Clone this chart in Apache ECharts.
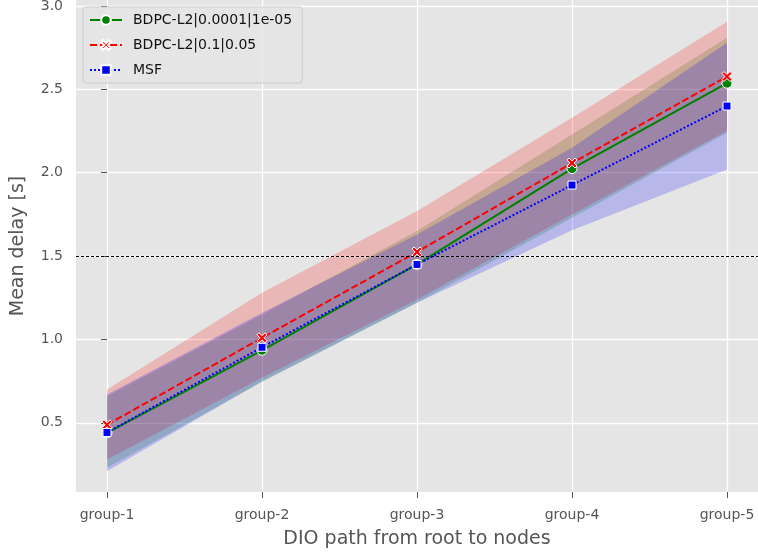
<!DOCTYPE html>
<html>
<head>
<meta charset="utf-8">
<script src="https://cdn.jsdelivr.net/npm/echarts@6/dist/echarts.min.js"></script>
<style>
  html, body { margin: 0; padding: 0; background: #fff; }
  #chart { width: 758px; height: 554px; }
</style>
</head>
<body>
<div id="chart"></div>
<script>
// categories and ticks
const groups = ['group-1', 'group-2', 'group-3', 'group-4', 'group-5']
const yTicks = [0.5, 1.0, 1.5, 2.0, 2.5, 3.0]
const refLine = 1.5

// BDPC-L2|0.0001|1e-05
const greenMean = [0.44, 0.935, 1.45, 2.025, 2.537]
const greenUpper = [0.66, 1.15, 1.65, 2.23, 2.81]
const greenLower = [0.23, 0.745, 1.22, 1.73, 2.24]
// BDPC-L2|0.1|0.05
const redMean = [0.488, 1.01, 1.525, 2.058, 2.577]
const redUpper = [0.7, 1.28, 1.77, 2.33, 2.905]
const redLower = [0.28, 0.77, 1.24, 1.75, 2.25]
// MSF
const blueMean = [0.442, 0.953, 1.45, 1.926, 2.4]
const blueUpper = [0.67, 1.16, 1.63, 2.15, 2.78]
const blueLower = [0.21, 0.75, 1.22, 1.655, 2.02]

const font = 'DejaVu Sans'
const xPos = groups.map((g, i) => i)

function pairs(arr) {
  return arr.map((v, i) => [i, v])
}

// confidence band as one polygon, placed through the axes
function band(name, lower, upper, color) {
  return {
    name: name,
    type: 'custom',
    silent: true,
    z: 1,
    data: lower.map((v, i) => [i, v, upper[i]]),
    renderItem: (params, api) => {
      if (params.dataIndex !== 0) return null
      const pts = []
      upper.forEach((v, i) => pts.push(api.coord([i, v])))
      for (let i = lower.length - 1; i >= 0; i--) pts.push(api.coord([i, lower[i]]))
      return {
        type: 'polygon',
        shape: { points: pts },
        style: { fill: color }
      }
    }
  }
}

const xMark = 'path://M2,0 L5,3 L8,0 L10,2 L7,5 L10,8 L8,10 L5,7 L2,10 L0,8 L3,5 L0,2 Z'

const chart = echarts.init(document.getElementById('chart'))

const option = {
  animation: false,
  backgroundColor: '#fff',
  textStyle: { fontFamily: font },
  grid: {
    left: 76,
    right: 0,
    top: 0,
    bottom: 62,
    outerBoundsMode: 'none',
    containLabel: false,
    show: true,
    backgroundColor: '#e5e5e5',
    borderWidth: 0
  },
  legend: {
    data: ['BDPC-L2|0.0001|1e-05', 'BDPC-L2|0.1|0.05', 'MSF'],
    orient: 'vertical',
    left: 83,
    top: 7,
    padding: [6, 10, 6, 6],
    itemGap: 11,
    itemWidth: 32,
    itemHeight: 12,
    backgroundColor: 'rgba(229,229,229,0.85)',
    borderColor: '#cccccc',
    borderWidth: 1,
    borderRadius: 3,
    textStyle: { fontFamily: font, fontSize: 14, color: '#111', padding: [0, 0, 0, 6] }
  },
  xAxis: {
    type: 'value',
    min: -0.2,
    max: 4.2,
    name: 'DIO path from root to nodes',
    nameLocation: 'middle',
    nameGap: 38,
    nameTextStyle: { fontFamily: font, fontSize: 19, color: '#555' },
    axisLine: { show: false },
    axisTick: {
      show: true,
      length: 6,
      customValues: xPos,
      lineStyle: { color: '#555', width: 1 }
    },
    axisLabel: {
      customValues: xPos,
      formatter: (v) => groups[Math.round(v)],
      fontFamily: font,
      fontSize: 14,
      color: '#555',
      margin: 16
    },
    splitLine: { show: true, lineStyle: { color: '#fff', width: 1.3 } }
  },
  yAxis: {
    type: 'value',
    min: 0.085,
    max: 3.036,
    name: 'Mean delay [s]',
    nameLocation: 'middle',
    nameGap: 48,
    nameTextStyle: { fontFamily: font, fontSize: 19, color: '#555' },
    axisLine: { show: false },
    axisTick: {
      show: true,
      length: 6,
      customValues: yTicks,
      lineStyle: { color: '#555', width: 1 }
    },
    axisLabel: {
      customValues: yTicks,
      formatter: (v) => v.toFixed(1),
      fontFamily: font,
      fontSize: 14,
      color: '#555',
      margin: 13
    },
    splitLine: { show: true, lineStyle: { color: '#fff', width: 1.3 } }
  },
  series: [
    band('g-band', greenLower, greenUpper, 'rgba(0,128,0,0.2)'),
    band('r-band', redLower, redUpper, 'rgba(255,0,0,0.2)'),
    band('b-band', blueLower, blueUpper, 'rgba(0,0,255,0.2)'),
    {
      name: 'BDPC-L2|0.0001|1e-05',
      type: 'line',
      data: pairs(greenMean),
      symbol: 'circle',
      symbolSize: 10,
      itemStyle: { color: '#008000', borderColor: '#fff', borderWidth: 1 },
      lineStyle: { color: '#008000', width: 2 },
      z: 3
    },
    {
      name: 'BDPC-L2|0.1|0.05',
      type: 'line',
      data: pairs(redMean),
      symbol: xMark,
      symbolSize: 10,
      itemStyle: { color: '#ff0000', borderColor: '#fff', borderWidth: 1 },
      lineStyle: { color: '#ff0000', width: 2, type: [7, 3] },
      z: 4,
      markLine: {
        silent: true,
        symbol: 'none',
        label: { show: false },
        lineStyle: { color: '#000', width: 1, type: [3, 2] },
        data: [{ yAxis: refLine }]
      }
    },
    {
      name: 'MSF',
      type: 'line',
      data: pairs(blueMean),
      symbol: 'rect',
      symbolSize: 8,
      itemStyle: { color: '#0000ff', borderColor: '#fff', borderWidth: 1 },
      lineStyle: { color: '#0000ff', width: 2, type: [2, 2] },
      z: 5
    }
  ]
}

chart.setOption(option)
</script>
</body>
</html>
